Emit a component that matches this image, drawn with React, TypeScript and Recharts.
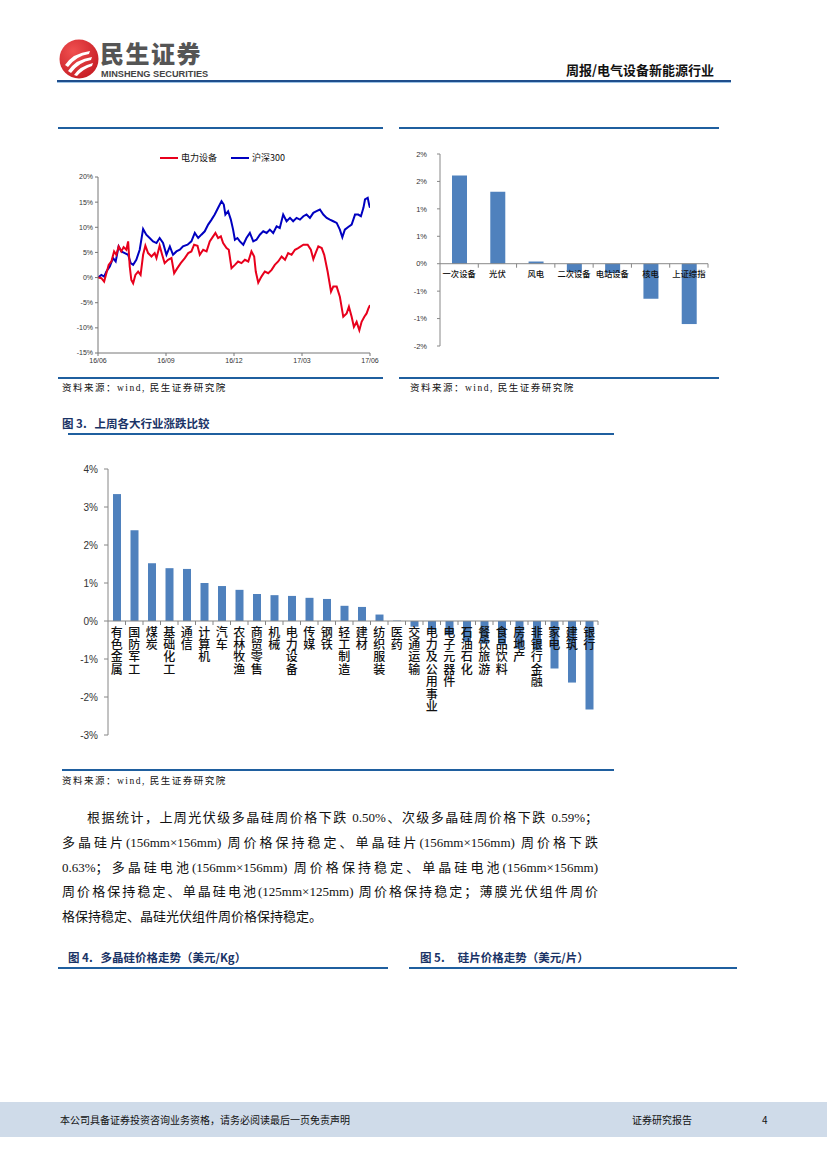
import React from "react";
import { LineChart, Line, XAxis, YAxis, BarChart, Bar, ReferenceLine } from "recharts";

// 图1: 电力设备 vs 沪深300 (month offset from 16/06, % change)
const quarterTicks = [0, 3, 6, 9, 12];
const quarterLabels = ["16/06", "16/09", "16/12", "17/03", "17/06"];
const lineYTicks = [-15, -10, -5, 0, 5, 10, 15, 20];

const powerEquipment: [number, number][] = [
  [0, 0], [0.15, -0.13], [0.27, -0.8], [0.37, 0.87], [0.47, 2.53], [0.59, 3.2], [0.71, 5.2],
  [0.81, 4.53], [0.91, 6.2], [1.03, 5.2], [1.13, 6.07], [1.25, 5.53], [1.33, 7.2], [1.4, 2.2],
  [1.47, -0.47], [1.55, -1.13], [1.65, 0.53], [1.77, 1.2], [1.88, 0.53], [1.99, 4.53], [2.09, 6.33],
  [2.21, 4.87], [2.36, 4.2], [2.5, 4.87], [2.58, 3.87], [2.72, 6.33], [2.83, 4.53], [2.94, 2.87],
  [3.09, 3.53], [3.24, 3.87], [3.36, 0.87], [3.5, 1.87], [3.65, 2.87], [3.83, 3.87], [3.98, 4.87],
  [4.12, 5.2], [4.24, 6.53], [4.39, 6.33], [4.49, 4.53], [4.64, 5.53], [4.79, 5.2], [4.93, 7.2],
  [5.08, 8.2], [5.18, 8.87], [5.3, 7.87], [5.42, 8.2], [5.52, 6.87], [5.67, 5.87], [5.77, 5.53],
  [5.89, 1.87], [6.04, 2.53], [6.18, 3.2], [6.33, 2.87], [6.48, 3.53], [6.63, 3.2], [6.77, 5.2],
  [6.89, 4.2], [6.96, 1.2], [7.07, -1.0], [7.21, 0.2], [7.36, 1.2], [7.51, 0.87], [7.66, 1.53],
  [7.8, 2.53], [7.95, 3.2], [8.1, 4.2], [8.25, 3.53], [8.39, 4.87], [8.54, 4.53], [8.69, 5.53],
  [8.83, 5.87], [9.06, 6.53], [9.25, 6.53], [9.39, 5.53], [9.5, 3.67], [9.6, 4.87], [9.72, 6.2],
  [9.87, 5.87], [9.98, 4.53], [10.13, 1.2], [10.28, -2.8], [10.38, -1.8], [10.53, -1.8], [10.67, -3.8],
  [10.82, -7.8], [10.97, -7.13], [11.07, -5.8], [11.19, -7.8], [11.29, -9.8], [11.41, -8.8],
  [11.53, -10.47], [11.63, -8.8], [11.75, -7.8], [11.85, -7.13], [11.93, -6.13], [12, -5.47],
];

const csi300: [number, number][] = [
  [0, 0], [0.15, 0.53], [0.27, 0.2], [0.37, 1.2], [0.52, 2.2], [0.66, 3.87], [0.78, 3.2], [0.91, 6.2],
  [1.03, 5.2], [1.18, 4.87], [1.33, 4.53], [1.44, 2.87], [1.55, 2.53], [1.69, 3.53], [1.84, 5.53],
  [1.99, 9.67], [2.13, 8.53], [2.28, 7.87], [2.43, 7.2], [2.58, 6.87], [2.72, 7.87], [2.87, 6.87],
  [3.02, 4.53], [3.17, 6.2], [3.31, 4.53], [3.46, 5.2], [3.61, 5.53], [3.75, 6.2], [3.95, 6.53],
  [4.12, 7.2], [4.27, 8.87], [4.42, 7.87], [4.56, 8.53], [4.71, 9.2], [4.86, 10.53], [5.01, 11.53],
  [5.15, 12.53], [5.3, 13.87], [5.45, 15.2], [5.55, 14.53], [5.62, 12.53], [5.74, 13.2], [5.86, 11.53],
  [5.96, 9.53], [6.04, 7.53], [6.15, 7.87], [6.26, 7.2], [6.41, 6.53], [6.55, 7.87], [6.7, 8.87],
  [6.85, 7.2], [6.99, 7.53], [7.14, 8.53], [7.29, 9.2], [7.44, 8.87], [7.58, 9.53], [7.73, 8.87],
  [7.88, 10.2], [8.02, 9.87], [8.17, 12.53], [8.32, 11.2], [8.47, 11.87], [8.61, 11.2], [8.76, 11.87],
  [8.91, 11.53], [9.06, 12.2], [9.2, 12.53], [9.35, 11.87], [9.5, 12.87], [9.64, 13.2], [9.79, 13.53],
  [9.94, 12.53], [10.09, 11.87], [10.23, 11.53], [10.38, 11.2], [10.53, 10.87], [10.67, 9.53],
  [10.78, 8.0], [10.89, 9.53], [11.04, 10.07], [11.19, 10.53], [11.34, 12.53], [11.48, 12.53],
  [11.6, 12.2], [11.71, 13.87], [11.78, 15.53], [11.9, 15.87], [11.96, 14.53], [12, 13.87],
];

// 图2: 电气设备子行业
const sectorNames = ["一次设备", "光伏", "风电", "二次设备", "电站设备", "核电", "上证综指"];
const sectorChange = [1.61, 1.31, 0.04, -0.15, -0.17, -0.64, -1.1];
const sectorYTicks = [-1.5, -1, -0.5, 0, 0.5, 1, 1.5, 2];

// 图3: 上周各大行业涨跌
const industryNames = [
  "有色金属", "国防军工", "煤炭", "基础化工", "通信", "计算机", "汽车", "农林牧渔", "商贸零售",
  "机械", "电力设备", "传媒", "钢铁", "轻工制造", "建材", "纺织服装", "医药", "交通运输",
  "电力及公用事业", "电子元器件", "石油石化", "餐饮旅游", "食品饮料", "房地产", "非银行金融",
  "家电", "建筑", "银行",
];
const industryChange = [
  3.34, 2.39, 1.52, 1.39, 1.37, 1.0, 0.92, 0.82, 0.71, 0.68, 0.66, 0.61, 0.58, 0.4, 0.37, 0.17,
  0.01, -0.15, -0.24, -0.37, -0.55, -0.6, -0.64, -0.73, -0.77, -1.25, -1.62, -2.33,
];
const industryYTicks = [-3, -2, -1, 0, 1, 2, 3, 4];

const paragraph = [
  "根据统计，上周光伏级多晶硅周价格下跌 0.50%、次级多晶硅周价格下跌 0.59%；",
  "多晶硅片(156mm×156mm) 周价格保持稳定、单晶硅片(156mm×156mm) 周价格下跌",
  "0.63%；多晶硅电池(156mm×156mm) 周价格保持稳定、单晶硅电池(156mm×156mm)",
  "周价格保持稳定、单晶硅电池(125mm×125mm) 周价格保持稳定；薄膜光伏组件周价",
  "格保持稳定、晶硅光伏组件周价格保持稳定。",
];

const CJK = "'Noto Sans CJK SC', sans-serif";
const SERIF = "'Liberation Serif', 'Noto Sans CJK SC', serif";
const SANS = "'Liberation Sans', Arial, sans-serif";
const BLUE_BAR = "#4f81bd";
const RULE = "#1f5f9f";

const pct = (v: number) => `${v}%`;
const roundPct = (v: number) => `${Math.sign(v) * Math.round(Math.abs(v))}%`;

function Rule({ x1, x2, y, h = 2, color = RULE }: any) {
  return <div style={{ position: "absolute", left: x1, top: y, width: x2 - x1, height: h, background: color }} />;
}

function Txt({ x, y, size, children, style }: any) {
  return (
    <div style={{ position: "absolute", left: x, top: y, fontSize: size, lineHeight: `${size + 4}px`, whiteSpace: "nowrap", ...style }}>
      {children}
    </div>
  );
}

// category label drawn on the zero line; vertical labels use upright vertical writing
function CategoryTick(props: any) {
  const { x, y, payload, shift, band, vertical, fontSize, weight } = props;
  const zeroY = y - shift;
  const label = String(payload.value);
  return (
    <g>
      <line x1={x + band / 2} x2={x + band / 2} y1={zeroY} y2={zeroY + 4} stroke="#868686" />
      {vertical ? (
        <text
          x={x}
          y={zeroY + 5}
          fontSize={fontSize}
          fontWeight={weight || 500}
          fill="#111"
          fontFamily={CJK}
          letterSpacing={0.4}
          style={{ writingMode: "vertical-rl", textOrientation: "upright" } as any}
        >
          {label}
        </text>
      ) : (
        <text x={x} y={zeroY + 13} textAnchor="middle" fontSize={fontSize} fontWeight={weight || 500} fill="#111" fontFamily={CJK}>
          {label}
        </text>
      )}
    </g>
  );
}

function Logo() {
  return (
    <div style={{ position: "absolute", left: 59, top: 39 }}>
      <svg width={40} height={40} viewBox="0 0 40 40">
        <defs>
          <radialGradient id="lg" cx="35%" cy="30%" r="75%">
            <stop offset="0%" stopColor="#f05050" />
            <stop offset="100%" stopColor="#c81e25" />
          </radialGradient>
        </defs>
        <circle cx={20} cy={20} r={19.5} fill="url(#lg)" />
        <path d="M6 26 Q14 14 31 12 L30 15 Q17 17 9 28 Z" fill="#fff" />
        <path d="M9 32 Q17 20 33 18 L32 21 Q20 23 12 34 Z" fill="#fff" />
        <path d="M15 36 Q21 27 34 24 L33 27 Q24 30 18 37 Z" fill="#fff" />
      </svg>
      <div style={{ position: "absolute", left: 41, top: 2, fontSize: 24, fontWeight: 900, color: "#555", fontFamily: CJK, lineHeight: "24px", letterSpacing: 1.5, whiteSpace: "nowrap" }}>
        民生证券
      </div>
      <div style={{ position: "absolute", left: 42, top: 30, fontSize: 9.2, fontWeight: 700, color: "#444", fontFamily: SANS, lineHeight: "10px", whiteSpace: "nowrap" }}>
        MINSHENG SECURITIES
      </div>
    </div>
  );
}

export default function App() {
  const redData = powerEquipment.map(([m, v]) => ({ m, v }));
  const blueData = csi300.map(([m, v]) => ({ m, v }));
  const sectorData = sectorNames.map((name, i) => ({ name, value: sectorChange[i] }));
  const industryData = industryNames.map((name, i) => ({ name, value: industryChange[i] }));

  // geometry of the bar charts (used to place labels on the zero line)
  const sec = { w: 320, h: 230, top: 14, right: 12, yw: 40, xh: 24 };
  const secPlotH = sec.h - sec.top - sec.xh;
  const secPlotW = sec.w - sec.yw - sec.right;
  const secShift = (secPlotH * (0 - sectorYTicks[0])) / (sectorYTicks[sectorYTicks.length - 1] - sectorYTicks[0]);

  const ind = { w: 550, h: 290, top: 14, right: 14, yw: 46, xh: 10 };
  const indPlotH = ind.h - ind.top - ind.xh;
  const indPlotW = ind.w - ind.yw - ind.right;
  const indShift = (indPlotH * (0 - industryYTicks[0])) / (industryYTicks[industryYTicks.length - 1] - industryYTicks[0]);

  const axisTick = { fontSize: 7, fill: "#333", fontFamily: SANS };

  return (
    <div style={{ position: "absolute", left: 0, top: 0, width: 827, height: 1169, background: "#fff", fontFamily: CJK, color: "#111" }}>
      {/* header */}
      <Logo />
      <Txt x={566} y={61} size={13} style={{ fontWeight: 700, fontFamily: CJK }}>
        周报/电气设备新能源行业
      </Txt>
      <Rule x1={57} x2={731} y={80} h={2} color="#1f4e8c" />
      <Rule x1={57} x2={731} y={82} h={1} color="#9dc3e6" />

      {/* top-left chart */}
      <Rule x1={58} x2={383} y={127} />
      <div style={{ position: "absolute", left: 160, top: 151, display: "flex", alignItems: "center", fontSize: 9, fontFamily: CJK, whiteSpace: "nowrap" }}>
        <span style={{ display: "inline-block", width: 18, height: 2, background: "#e8001c", marginRight: 3 }} />
        <span>电力设备</span>
        <span style={{ display: "inline-block", width: 18, height: 2, background: "#0000c0", marginLeft: 14, marginRight: 3 }} />
        <span>沪深300</span>
      </div>
      <div style={{ position: "absolute", left: 58, top: 140 }}>
        <LineChart width={325} height={235} margin={{ top: 37, right: 13, left: 0, bottom: 0 }}>
          <XAxis
            type="number"
            dataKey="m"
            domain={[0, 12]}
            ticks={quarterTicks}
            tickFormatter={(v: number) => quarterLabels[quarterTicks.indexOf(v)]}
            tick={axisTick}
            tickSize={3}
            tickMargin={2}
            height={22}
            stroke="#777"
            allowDataOverflow
          />
          <YAxis
            type="number"
            domain={[-15, 20]}
            ticks={lineYTicks}
            tickFormatter={pct}
            tick={axisTick}
            tickSize={3}
            tickMargin={2}
            width={40}
            stroke="#777"
          />
          <Line data={blueData} dataKey="v" stroke="#0000c0" strokeWidth={2} dot={false} isAnimationActive={false} type="linear" />
          <Line data={redData} dataKey="v" stroke="#e8001c" strokeWidth={2} dot={false} isAnimationActive={false} type="linear" />
        </LineChart>
      </div>
      <Rule x1={58} x2={383} y={377} />
      <Txt x={62} y={382} size={9.5} style={{ fontFamily: SERIF, letterSpacing: 1.5 }}>
        资料来源：wind, 民生证券研究院
      </Txt>

      {/* top-right chart */}
      <Rule x1={399} x2={719} y={127} />
      <div style={{ position: "absolute", left: 400, top: 140 }}>
        <BarChart width={sec.w} height={sec.h} data={sectorData} margin={{ top: sec.top, right: sec.right, left: 0, bottom: 0 }}>
          <XAxis
            dataKey="name"
            interval={0}
            axisLine={false}
            tickLine={false}
            tickSize={0}
            tickMargin={0}
            height={sec.xh}
            tick={(p: any) => (
              <CategoryTick {...p} shift={secShift} band={secPlotW / sectorNames.length} fontSize={8.3} weight={500} />
            )}
          />
          <YAxis
            type="number"
            domain={[sectorYTicks[0], sectorYTicks[sectorYTicks.length - 1]]}
            ticks={sectorYTicks}
            tickFormatter={roundPct}
            tick={{ fontSize: 7.5, fill: "#333", fontFamily: SANS }}
            tickSize={3}
            tickMargin={10}
            width={sec.yw}
            stroke="#888"
          />
          <ReferenceLine y={0} stroke="#888" />
          <Bar dataKey="value" fill={BLUE_BAR} barSize={15} isAnimationActive={false} />
        </BarChart>
      </div>
      <Rule x1={399} x2={719} y={377} />
      <Txt x={410} y={382} size={9.5} style={{ fontFamily: SERIF, letterSpacing: 1.5 }}>
        资料来源：wind, 民生证券研究院
      </Txt>

      {/* figure 3 */}
      <Txt x={62} y={416} size={11.5} style={{ fontWeight: 700, color: "#1a3366", fontFamily: CJK }}>
        图 3.&nbsp;&nbsp; 上周各大行业涨跌比较
      </Txt>
      <Rule x1={68} x2={614} y={433} />
      <div style={{ position: "absolute", left: 62, top: 455 }}>
        <BarChart width={ind.w} height={ind.h} data={industryData} margin={{ top: ind.top, right: ind.right, left: 0, bottom: 0 }}>
          <XAxis
            dataKey="name"
            interval={0}
            axisLine={false}
            tickLine={false}
            tickSize={0}
            tickMargin={0}
            height={ind.xh}
            tick={(p: any) => (
              <CategoryTick {...p} shift={indShift} band={indPlotW / industryNames.length} fontSize={12} vertical />
            )}
          />
          <YAxis
            type="number"
            domain={[industryYTicks[0], industryYTicks[industryYTicks.length - 1]]}
            ticks={industryYTicks}
            tickFormatter={pct}
            tick={{ fontSize: 10, fill: "#333", fontFamily: SANS }}
            tickSize={4}
            tickMargin={6}
            width={ind.yw}
            stroke="#868686"
          />
          <ReferenceLine y={0} stroke="#868686" />
          <Bar dataKey="value" fill={BLUE_BAR} barSize={8} isAnimationActive={false} />
        </BarChart>
      </div>
      <Rule x1={62} x2={614} y={769} />
      <Txt x={62} y={775} size={9.5} style={{ fontFamily: SERIF, letterSpacing: 1.5 }}>
        资料来源：wind, 民生证券研究院
      </Txt>

      {/* paragraph */}
      {paragraph.map((line, i) => (
        <div
          key={i}
          style={{
            position: "absolute",
            left: i === 0 ? 87 : 62,
            top: 809 + i * 24.8,
            width: i === 0 ? 511 : 536,
            fontSize: 13,
            lineHeight: "18px",
            fontFamily: SERIF,
            textAlign: "justify",
            textAlignLast: i === paragraph.length - 1 ? "left" : "justify",
            whiteSpace: "nowrap",
          } as any}
        >
          {line}
        </div>
      ))}

      {/* figure 4 / 5 captions */}
      <Txt x={68} y={950} size={11.5} style={{ fontWeight: 700, color: "#1a3366" }}>
        图 4.&nbsp;&nbsp; 多晶硅价格走势（美元/Kg）
      </Txt>
      <Rule x1={58} x2={388} y={967} />
      <Txt x={420} y={950} size={11.5} style={{ fontWeight: 700, color: "#1a3366" }}>
        图 5.&nbsp;&nbsp;&nbsp;&nbsp; 硅片价格走势（美元/片）
      </Txt>
      <Rule x1={409} x2={737} y={967} />

      {/* footer */}
      <div style={{ position: "absolute", left: 0, top: 1102, width: 827, height: 35, background: "#cfdbe9" }} />
      <Txt x={60} y={1113} size={10}>本公司具备证券投资咨询业务资格，请务必阅读最后一页免责声明</Txt>
      <Txt x={632} y={1113} size={10}>证券研究报告</Txt>
      <Txt x={762} y={1113} size={10}>4</Txt>
    </div>
  );
}
